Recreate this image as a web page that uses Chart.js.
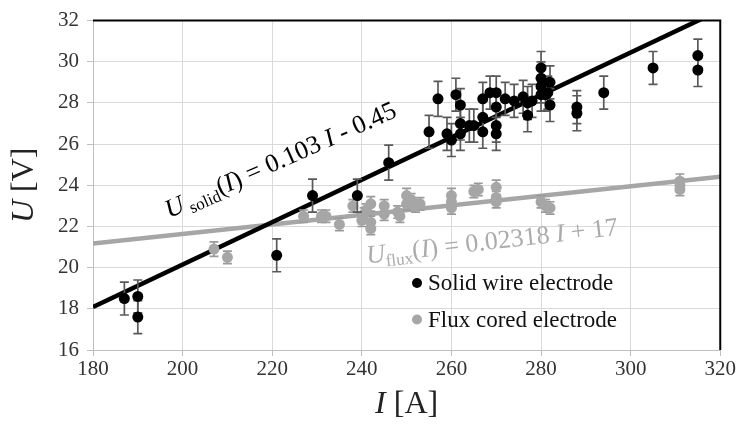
<!DOCTYPE html>
<html>
<head>
<meta charset="utf-8">
<script src="https://cdn.jsdelivr.net/npm/chart.js@4.4.1/dist/chart.umd.min.js"></script>
<style>
  html, body { margin: 0; padding: 0; background: #fff; }
  canvas { display: block; }
</style>
</head>
<body>
<canvas id="grafico" width="737" height="432"></canvas>
<script>
// Solid wire electrode: current I [A], mean voltage U [V], std. deviation [V]
const solidI = [187, 190, 190, 221, 229, 239, 246, 255, 257, 259, 260, 261, 262, 262, 262, 264, 265,
  267, 267, 267, 268.6, 270, 270, 270, 270, 272, 274, 276, 277, 277, 278,
  280, 280, 280, 280, 281, 281.5, 282, 282, 288, 288, 294, 305, 315, 315];
const solidU = [18.5, 18.6, 17.6, 20.6, 23.5, 23.5, 25.1, 26.6, 28.2, 26.5, 26.2, 28.4, 27.9, 27.0, 26.5, 26.9, 26.9,
  28.2, 27.3, 26.6, 28.5, 28.5, 27.8, 26.9, 26.5, 28.2, 28.1, 28.3, 28.0, 27.4, 28.1,
  29.7, 29.2, 28.8, 28.4, 28.4, 28.5, 29.0, 27.9, 27.8, 27.5, 28.5, 29.7, 30.3, 29.6];
const solidErr = [0.8, 0.8, 0.8, 0.8, 0.8, 0.8, 0.85, 0.8, 0.85, 0.8, 0.8, 0.8, 0.8, 0.8, 0.8, 0.8, 0.8,
  0.8, 0.8, 0.8, 0.8, 0.8, 0.8, 0.8, 0.8, 0.8, 0.8, 0.8, 0.8, 0.8, 0.8,
  0.8, 0.8, 0.8, 0.8, 0.8, 0.8, 0.8, 0.8, 0.8, 0.85, 0.8, 0.8, 0.8, 0.8];

// Flux cored electrode
const fluxI = [207, 210, 227, 231, 232, 235, 238, 240, 240.5, 241, 242, 242, 242, 245, 245, 248, 248.5,
  250, 250, 251, 252, 253, 260, 260, 260, 265, 266, 270, 270, 270, 280, 281, 282, 311, 311, 311];
const fluxU = [20.9, 20.5, 22.5, 22.5, 22.5, 22.1, 23.0, 22.3, 22.6, 22.8, 23.1, 22.2, 21.9, 23.0, 22.6, 22.7, 22.5,
  23.5, 23.1, 23.3, 23.0, 23.1, 23.5, 23.2, 22.9, 23.7, 23.8, 23.9, 23.4, 23.2, 23.2, 23.0, 22.9, 24.2, 24.0, 23.8];
const fluxErr = [0.35, 0.3, 0.3, 0.3, 0.3, 0.3, 0.3, 0.3, 0.3, 0.3, 0.35, 0.3, 0.3, 0.3, 0.3, 0.3, 0.3,
  0.35, 0.3, 0.3, 0.3, 0.3, 0.35, 0.3, 0.3, 0.3, 0.3, 0.35, 0.3, 0.3, 0.3, 0.3, 0.3, 0.35, 0.3, 0.3];

// linear fits U(I) = a*I + b
const solidFit = [0.103, -0.45];
const fluxFit = [0.02318, 17];

const xTicks = [180, 200, 220, 240, 260, 280, 300, 320];
const yTicks = [16, 18, 20, 22, 24, 26, 28, 30, 32];

const NEGRO = '#000000';
const GRIS = '#a6a6a6';
const SERIF = "'Liberation Serif', 'Times New Roman', serif";

const puntos = (xs, ys) => xs.map((x, i) => ({ x: x, y: ys[i] }));
const recta = (fit) => [xTicks[0], xTicks[xTicks.length - 1]].map(x => ({ x: x, y: fit[0] * x + fit[1] }));

// barras de error verticales, dibujadas debajo de los puntos
const barrasError = {
  id: 'barrasError',
  beforeDatasetDraw(chart, args) {
    const ds = chart.data.datasets[args.index];
    if (!ds.errores) return;
    const ctx = chart.ctx;
    const ey = chart.scales.y;
    ctx.save();
    ctx.strokeStyle = ds.colorError;
    ctx.lineWidth = 1.7;
    args.meta.data.forEach((p, i) => {
      const d = ds.data[i];
      const arriba = ey.getPixelForValue(d.y + ds.errores[i]);
      const abajo = ey.getPixelForValue(d.y - ds.errores[i]);
      ctx.beginPath();
      ctx.moveTo(p.x, arriba); ctx.lineTo(p.x, abajo);
      ctx.moveTo(p.x - 4.5, arriba); ctx.lineTo(p.x + 4.5, arriba);
      ctx.moveTo(p.x - 4.5, abajo); ctx.lineTo(p.x + 4.5, abajo);
      ctx.stroke();
    });
    ctx.restore();
  }
};

// escribe un texto con partes de distinto estilo (cursiva, subíndice)
function escribirPartes(ctx, partes, x, y) {
  let cx = x;
  partes.forEach(p => {
    ctx.font = p.f;
    ctx.fillText(p.t, cx, y + (p.dy || 0));
    cx += ctx.measureText(p.t).width;
  });
  return cx - x;
}
function anchoPartes(ctx, partes) {
  let w = 0;
  partes.forEach(p => { ctx.font = p.f; w += ctx.measureText(p.t).width; });
  return w;
}

const textos = {
  id: 'textos',
  afterDraw(chart) {
    const ctx = chart.ctx;
    const a = chart.chartArea;
    const sx = chart.scales.x, sy = chart.scales.y;

    // marco superior y derecho en negro
    ctx.save();
    ctx.strokeStyle = NEGRO;
    ctx.lineWidth = 2;
    ctx.beginPath();
    ctx.moveTo(a.left, a.top); ctx.lineTo(a.right, a.top); ctx.lineTo(a.right, a.bottom);
    ctx.stroke();

    ctx.textBaseline = 'alphabetic';
    const N = '26px ' + SERIF, C = 'italic 26px ' + SERIF, S = '17px ' + SERIF;

    // ecuación del ajuste del alambre macizo
    const eqSolid = [
      { t: 'U', f: C }, { t: ' solid', f: S, dy: 5 }, { t: '(', f: N }, { t: 'I', f: C },
      { t: ') = 0.103 ', f: N }, { t: 'I', f: C }, { t: ' - 0.45', f: N }
    ];
    ctx.save();
    ctx.fillStyle = NEGRO;
    ctx.translate(sx.getPixelForValue(197), sy.getPixelForValue(22.4));
    ctx.rotate(-24 * Math.PI / 180);
    escribirPartes(ctx, eqSolid, 0, 0);
    ctx.restore();

    // ecuación del ajuste del alambre tubular
    const eqFlux = [
      { t: 'U', f: C }, { t: 'flux', f: S, dy: 5 }, { t: '(', f: N }, { t: 'I', f: C },
      { t: ') = 0.02318 ', f: N }, { t: 'I', f: C }, { t: ' + 17', f: N }
    ];
    ctx.save();
    ctx.fillStyle = '#ababab';
    ctx.translate(sx.getPixelForValue(241.2), sy.getPixelForValue(20.2));
    ctx.rotate(-6.5 * Math.PI / 180);
    escribirPartes(ctx, eqFlux, 0, 0);
    ctx.restore();

    // leyenda dentro del área
    const leyenda = [['Solid wire electrode', NEGRO, 283], ['Flux cored electrode', GRIS, 319.5]];
    ctx.font = '23px ' + SERIF;
    ctx.textBaseline = 'middle';
    leyenda.forEach(([txt, col, y]) => {
      ctx.fillStyle = col;
      ctx.beginPath();
      ctx.arc(417, y, 5, 0, Math.PI * 2);
      ctx.fill();
      ctx.fillStyle = '#111';
      ctx.fillText(txt, 428, y + 1);
    });

    // títulos de los ejes
    ctx.fillStyle = '#222';
    ctx.textBaseline = 'middle';
    const T = '32px ' + SERIF, TI = 'italic 32px ' + SERIF;
    const tx = [{ t: 'I', f: TI }, { t: ' [A]', f: T }];
    escribirPartes(ctx, tx, (a.left + a.right) / 2 - anchoPartes(ctx, tx) / 2, 405);
    const ty = [{ t: 'U', f: TI }, { t: ' [V]', f: T }];
    ctx.translate(25, (a.top + a.bottom) / 2);
    ctx.rotate(-Math.PI / 2);
    escribirPartes(ctx, ty, -anchoPartes(ctx, ty) / 2, 0);
    ctx.restore();
  }
};

const ejeComun = {
  type: 'linear',
  grid: { color: '#d9d9d9', lineWidth: 1, tickLength: 6, tickColor: '#bfbfbf' },
  border: { color: '#bfbfbf', width: 1 },
};

new Chart(document.getElementById('grafico'), {
  type: 'scatter',
  data: {
    datasets: [
      {
        label: 'Solid wire electrode', data: puntos(solidI, solidU), errores: solidErr, colorError: '#595959',
        backgroundColor: NEGRO, borderWidth: 0, pointRadius: 5.5
      },
      {
        label: 'Flux cored electrode', data: puntos(fluxI, fluxU), errores: fluxErr, colorError: '#9a9a9a',
        backgroundColor: GRIS, borderWidth: 0, pointRadius: 5.5
      },
      {
        label: 'U_solid', data: recta(solidFit), showLine: true, borderColor: NEGRO, borderWidth: 4.5,
        pointRadius: 0, clip: 0
      },
      {
        label: 'U_flux', data: recta(fluxFit), showLine: true, borderColor: GRIS, borderWidth: 4.5,
        pointRadius: 0, clip: 0
      }
    ]
  },
  options: {
    responsive: false,
    animation: false,
    layout: { padding: { top: 13, right: 16, left: 0, bottom: 0 } },
    plugins: { legend: { display: false }, tooltip: { enabled: false } },
    scales: {
      x: Object.assign({}, ejeComun, {
        min: xTicks[0], max: xTicks[xTicks.length - 1],
        afterBuildTicks: s => { s.ticks = xTicks.map(v => ({ value: v })); },
        ticks: { font: { family: SERIF, size: 21 }, color: '#333', padding: 1, maxRotation: 0 },
        afterFit: s => { s.height = 82; }
      }),
      y: Object.assign({}, ejeComun, {
        min: yTicks[0], max: yTicks[yTicks.length - 1],
        afterBuildTicks: s => { s.ticks = yTicks.map(v => ({ value: v })); },
        ticks: { font: { family: SERIF, size: 21 }, color: '#333', padding: 8 },
        afterFit: s => { s.width = 93; }
      })
    }
  },
  plugins: [barrasError, textos]
});
</script>
</body>
</html>
